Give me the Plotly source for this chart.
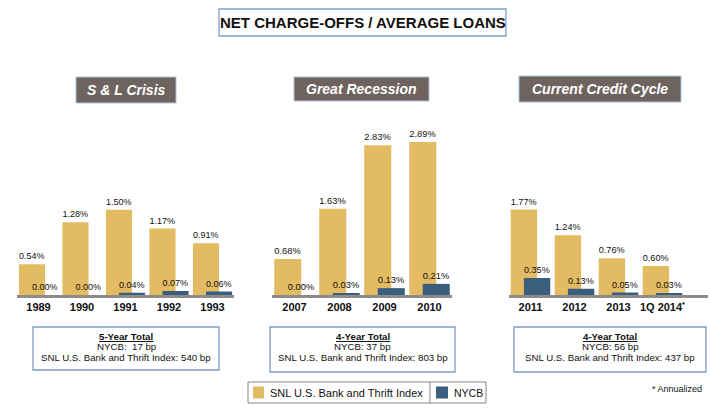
import plotly.graph_objects as go

W, H = 710, 410

# ---------------- data ----------------
sl_years = ["1989", "1990", "1991", "1992", "1993"]
sl_snl = [0.54, 1.28, 1.50, 1.17, 0.91]
sl_nycb = [0.00, 0.00, 0.04, 0.07, 0.06]

gr_years = ["2007", "2008", "2009", "2010"]
gr_snl = [0.68, 1.63, 2.83, 2.89]
gr_nycb = [0.00, 0.03, 0.13, 0.21]

cc_periods = ["2011", "2012", "2013", "1Q 2014"]
cc_ticktext = ["2011", "2012", "2013", "1Q 2014<sup>*</sup>"]
cc_snl = [1.77, 1.24, 0.76, 0.60]
cc_nycb = [0.35, 0.13, 0.05, 0.03]

chart_title = "NET CHARGE-OFFS / AVERAGE LOANS"
panel_titles = ["S & L Crisis", "Great Recession", "Current Credit Cycle"]
totals_heading = ["5-Year Total", "4-Year Total", "4-Year Total"]
totals_nycb = ["NYCB:  17 bp", "NYCB: 37 bp", "NYCB: 56 bp"]
totals_snl = ["SNL U.S. Bank and Thrift Index: 540 bp",
              "SNL U.S. Bank and Thrift Index: 803 bp",
              "SNL U.S. Bank and Thrift Index: 437 bp"]
series_names = ["SNL U.S. Bank and Thrift Index", "NYCB"]
footnote = "* Annualized"

# ---------------- style ----------------
GOLD = "#E2BB62"
NAVY = "#3A5E7E"
AXIS_GRAY = "#8F8B89"
HEAD_FILL = "#6F6360"
ARIAL = "Liberation Sans, Arial, sans-serif"
INK = "#111111"


def px(x):
    return x / W


def py(y):
    return 1 - y / H


fig = go.Figure()

panels = [
    (sl_years, sl_snl, sl_nycb, "x", "y"),
    (gr_years, gr_snl, gr_nycb, "x2", "y2"),
    (cc_periods, cc_snl, cc_nycb, "x3", "y3"),
]
for i, (cats, snl, nycb, xa, ya) in enumerate(panels):
    fig.add_trace(go.Bar(
        x=cats, y=snl, xaxis=xa, yaxis=ya, name=series_names[0],
        marker=dict(color=GOLD, line=dict(width=0)),
        offset=-0.45, width=0.6,
        texttemplate="%{y:.2f}%", textposition="outside",
        textfont=dict(family=ARIAL, size=9.5, color=INK),
        cliponaxis=False, showlegend=False))
    fig.add_trace(go.Bar(
        x=cats, y=nycb, xaxis=xa, yaxis=ya, name=series_names[1],
        marker=dict(color=NAVY, line=dict(width=0)),
        offset=-0.15, width=0.6,
        texttemplate="%{y:.2f}%", textposition="outside",
        textfont=dict(family=ARIAL, size=9.5, color=INK),
        cliponaxis=False, showlegend=False))

ydom = [py(295), py(115)]
xcommon = dict(type="category", showline=True, linecolor=AXIS_GRAY, linewidth=3,
               ticks="", showgrid=False, zeroline=False, fixedrange=True,
               tickfont=dict(family=ARIAL, size=11, color=INK, weight="bold"))
ycommon = dict(visible=False, showgrid=False, zeroline=False, fixedrange=True, domain=ydom)

fig.update_layout(
    width=W, height=H,
    margin=dict(l=0, r=0, t=0, b=0),
    paper_bgcolor="white", plot_bgcolor="rgba(0,0,0,0)",
    barmode="overlay", showlegend=False,
    xaxis=dict(xcommon, domain=[px(16.75), px(234.25)], range=[-0.5, 4.5], anchor="y"),
    xaxis2=dict(xcommon, domain=[px(272), px(452)], range=[-0.5, 3.5], anchor="y2"),
    xaxis3=dict(xcommon, domain=[px(508.5), px(708)], range=[-0.5, 4.034], anchor="y3",
                tickmode="array", tickvals=cc_periods, ticktext=cc_ticktext),
    yaxis=dict(ycommon, range=[0, 3.17], anchor="x"),
    yaxis2=dict(ycommon, range=[0, 3.40], anchor="x2"),
    yaxis3=dict(ycommon, range=[0, 3.73], anchor="x3"),
)

shapes = []
annotations = []

# title box
shapes.append(dict(type="rect", xref="paper", yref="paper",
                   x0=px(219), x1=px(506), y0=py(36), y1=py(9),
                   line=dict(color="#7EA3CC", width=1.3), fillcolor="white", layer="below"))
annotations.append(dict(xref="paper", yref="paper", x=px(362.5), y=py(22.5),
                        text=chart_title, showarrow=False, xanchor="center", yanchor="middle",
                        font=dict(family=ARIAL, size=15, color=INK, weight="bold")))

# panel header boxes
heads = [(76, 176, 77, 103), (294, 429, 77, 101), (519, 681, 76, 102)]
for (x0, x1, y0, y1), t in zip(heads, panel_titles):
    shapes.append(dict(type="rect", xref="paper", yref="paper",
                       x0=px(x0), x1=px(x1), y0=py(y1), y1=py(y0),
                       line=dict(color="#A9C3DE", width=1), fillcolor=HEAD_FILL, layer="below"))
    annotations.append(dict(xref="paper", yref="paper", x=px((x0 + x1) / 2), y=py((y0 + y1) / 2),
                            text="<i>" + t + "</i>", showarrow=False,
                            xanchor="center", yanchor="middle",
                            font=dict(family=ARIAL, size=14, color="white", weight="bold")))

# totals boxes
tboxes = [(33, 219, 327, 370), (270, 455, 327, 372), (514, 706, 327, 372)]
for (x0, x1, y0, y1), h, n, s in zip(tboxes, totals_heading, totals_nycb, totals_snl):
    shapes.append(dict(type="rect", xref="paper", yref="paper",
                       x0=px(x0), x1=px(x1), y0=py(y1), y1=py(y0),
                       line=dict(color="#7C9DC3", width=1.3), fillcolor="white", layer="below"))
    xc = px((x0 + x1) / 2)
    annotations.append(dict(xref="paper", yref="paper", x=xc, y=py(336.5),
                            text="<b><u>" + h + "</u></b>", showarrow=False,
                            xanchor="center", yanchor="middle",
                            font=dict(family=ARIAL, size=9.7, color=INK)))
    annotations.append(dict(xref="paper", yref="paper", x=xc, y=py(346.5),
                            text=n, showarrow=False, xanchor="center", yanchor="middle",
                            font=dict(family=ARIAL, size=9.7, color=INK)))
    annotations.append(dict(xref="paper", yref="paper", x=xc, y=py(357),
                            text=s, showarrow=False, xanchor="center", yanchor="middle",
                            font=dict(family=ARIAL, size=9.7, color=INK)))

# legend (drawn manually)
shapes.append(dict(type="rect", xref="paper", yref="paper",
                   x0=px(248), x1=px(486), y0=py(403), y1=py(382),
                   line=dict(color="#8A8482", width=1), fillcolor="white", layer="below"))
shapes.append(dict(type="line", xref="paper", yref="paper",
                   x0=px(430), x1=px(430), y0=py(403), y1=py(382),
                   line=dict(color="#8A8482", width=1)))
shapes.append(dict(type="rect", xref="paper", yref="paper",
                   x0=px(253), x1=px(264), y0=py(398.5), y1=py(386.5),
                   line=dict(width=0), fillcolor=GOLD))
shapes.append(dict(type="rect", xref="paper", yref="paper",
                   x0=px(436), x1=px(448), y0=py(398.5), y1=py(386.5),
                   line=dict(width=0), fillcolor=NAVY))
annotations.append(dict(xref="paper", yref="paper", x=px(268), y=py(392.5),
                        text=series_names[0], showarrow=False, xanchor="left", yanchor="middle",
                        font=dict(family=ARIAL, size=11, color=INK)))
annotations.append(dict(xref="paper", yref="paper", x=px(452), y=py(392.5),
                        text=series_names[1], showarrow=False, xanchor="left", yanchor="middle",
                        font=dict(family=ARIAL, size=10.5, color=INK)))
annotations.append(dict(xref="paper", yref="paper", x=px(704), y=py(389),
                        text=footnote, showarrow=False, xanchor="right", yanchor="middle",
                        font=dict(family=ARIAL, size=9, color=INK)))

fig.update_layout(shapes=shapes, annotations=annotations)
fig.write_html("out.html", config={"displayModeBar": False},
               post_script="document.body.style.margin='0px';")
